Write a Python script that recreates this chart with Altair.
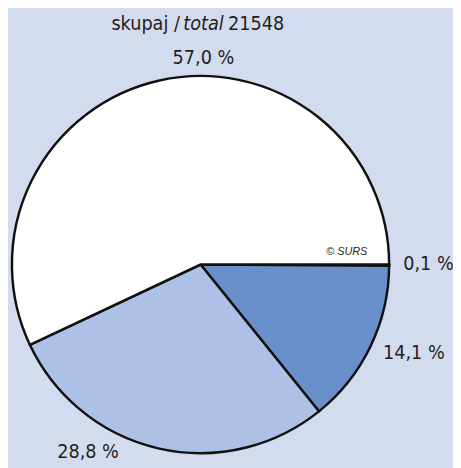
import altair as alt
import pandas as pd

shares = [0.1, 14.1, 28.8, 57.0]
labels = ["0,1 %", "14,1 %", "28,8 %", "57,0 %"]
colors = ["#2f4f8f", "#6a90cb", "#adc0e5", "#ffffff"]
label_angle = [89.8, 112.5, 210.9, 0.8]
label_radius = [232, 235, 223, 210]

df = pd.DataFrame({"share": shares, "label": labels, "order": list(range(len(shares))),
                   "color": colors, "ang": label_angle, "rad": label_radius})

FONT = "DejaVu Sans Condensed"
BG = "#d3dcee"
cx, cy, R = 196, 257, 192
PI = 3.14159265

pie = alt.Chart(df).mark_arc(outerRadius=R, stroke="#111111", strokeWidth=2.5).encode(
    theta=alt.Theta("share:Q", stack=True,
                    scale=alt.Scale(range=[PI / 2, PI / 2 + 2 * PI])),
    order=alt.Order("order:O"),
    color=alt.Color("color:N", scale=None),
    x=alt.value(cx), y=alt.value(cy),
)

lab = alt.Chart(df).mark_text(font=FONT, fontSize=20, color="#231f20",
                              align="center", baseline="middle").encode(
    theta=alt.Theta("ang:Q", scale=alt.Scale(domain=[0, 360], range=[0, 2 * PI])),
    radius=alt.Radius("rad:Q", scale=None),
    text="label:N",
    x=alt.value(cx), y=alt.value(cy),
)

title_parts = pd.DataFrame({"t": ["skupaj /", "total", "21548"],
                            "style": ["normal", "italic", "normal"],
                            "al": ["right", "center", "left"],
                            "px": [175, 199, 224]})

def part(i):
    return alt.Chart(title_parts.iloc[[i]]).mark_text(
        font=FONT, fontSize=20, color="#231f20", align=title_parts["al"][i],
        baseline="alphabetic", fontStyle=title_parts["style"][i]).encode(
        text="t:N", x=alt.value(int(title_parts["px"][i])), y=alt.value(18))

copy = alt.Chart(pd.DataFrame({"t": ["© SURS"]})).mark_text(
    font="Liberation Sans", fontSize=11, fontStyle="italic", color="#231f20",
    align="left", baseline="alphabetic").encode(text="t:N", x=alt.value(324), y=alt.value(247))

chart = alt.layer(pie, lab, part(0), part(1), part(2), copy).resolve_scale(
    theta="independent").properties(
    width=453, height=460, autosize=alt.AutoSizeParams(type="none"), padding=0,
    background=BG,
).configure_view(stroke=None)

chart.save("out.html", embed_options={"renderer": "svg", "actions": False})
